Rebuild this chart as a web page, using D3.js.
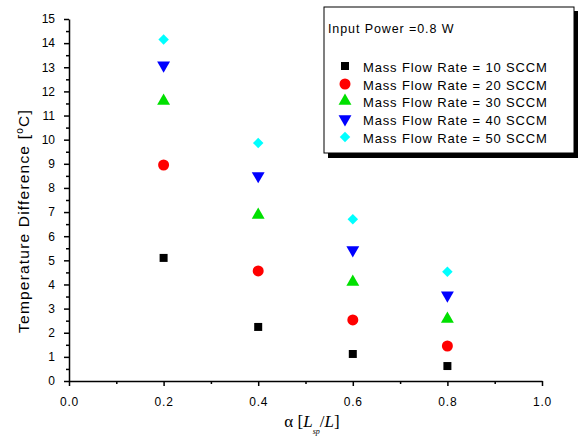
<!DOCTYPE html>
<html><head><meta charset="utf-8">
<script src="https://cdn.jsdelivr.net/npm/d3@7"></script>
<style>body{margin:0;background:#fff;}svg{display:block;font-family:Arial,"Liberation Sans",sans-serif;}</style>
</head><body>
<svg id="c" width="578" height="441"></svg>
<script>
const alphas = [0.2, 0.4, 0.6, 0.8];
const flow10 = [5.1, 2.24, 1.12, 0.62];
const flow20 = [8.95, 4.56, 2.53, 1.45];
const flow30 = [11.6, 6.88, 4.1, 2.57];
const flow40 = [13.08, 8.5, 5.43, 3.55];
const flow50 = [14.15, 9.86, 6.7, 4.53];
const seriesNames = ["Mass Flow Rate = 10 SCCM","Mass Flow Rate = 20 SCCM","Mass Flow Rate = 30 SCCM","Mass Flow Rate = 40 SCCM","Mass Flow Rate = 50 SCCM"];
const seriesValues = [flow10, flow20, flow30, flow40, flow50];
const colors = ["#000000","#ff0000","#00e000","#0000ff","#00ffff"];
const xTicks = [0.0,0.2,0.4,0.6,0.8,1.0];
const yTicks = d3.range(0,16);

const svg = d3.select("#c");
const x = d3.scaleLinear().domain([0,1]).range([69, 542]);
const y = d3.scaleLinear().domain([0,15]).range([381, 19]);

// axes
const xAxis = d3.axisBottom(x).tickValues(xTicks).tickFormat(d3.format(".1f")).tickSize(5).tickSizeOuter(0);
const gx = svg.append("g").attr("transform","translate(0,381)").call(xAxis);
gx.selectAll("text").attr("font-size",12).attr("fill","#000").attr("letter-spacing",0.8).attr("y",16);
const xMinor = d3.axisBottom(x).tickValues([0.1,0.3,0.5,0.7,0.9]).tickFormat("").tickSize(3).tickSizeOuter(0);
svg.append("g").attr("transform","translate(0,381)").call(xMinor).select(".domain").remove();

const yAxis = d3.axisLeft(y).tickValues(yTicks).tickFormat(d3.format("d")).tickSize(5).tickSizeOuter(0);
const gy = svg.append("g").attr("transform","translate(69,0)").call(yAxis);
gy.selectAll("text").attr("font-size",12).attr("fill","#000").attr("x",-14);
const yMinor = d3.axisLeft(y).tickValues(d3.range(0.5,15,1)).tickFormat("").tickSize(3).tickSizeOuter(0);
svg.append("g").attr("transform","translate(69,0)").call(yMinor).select(".domain").remove();
svg.selectAll(".domain, .tick line").attr("stroke","#000").attr("stroke-width",1.5);

// marker generators per series
function marker(i){
  if (i===0) return {d: d3.symbol().type(d3.symbolSquare).size(64)(), rot:0};
  if (i===1) return {d: d3.symbol().type(d3.symbolCircle).size(95)(), rot:0};
  if (i===2) return {d: d3.symbol().type(d3.symbolTriangle).size(72)(), rot:0};
  if (i===3) return {d: d3.symbol().type(d3.symbolTriangle).size(72)(), rot:180};
  return {d: d3.symbol().type(d3.symbolSquare).size(55)(), rot:45};
}

// points
seriesValues.forEach((vals,i)=>{
  const m = marker(i);
  svg.append("g").selectAll("path").data(vals).join("path")
    .attr("d", m.d)
    .attr("transform",(d,j)=>`translate(${x(alphas[j])},${y(d)}) rotate(${m.rot})`)
    .attr("fill", colors[i]);
});

// axis labels
svg.append("text").attr("transform","translate(29,221) rotate(-90)").attr("text-anchor","middle")
  .attr("font-size",15.5).attr("letter-spacing",1.2).attr("fill","#000")
  .html('Temperature Difference [<tspan dy="-6" font-size="10">o</tspan><tspan dy="6">C]</tspan>');
const xl = svg.append("text").attr("x",312).attr("y",427).attr("text-anchor","middle")
  .attr("font-family","'Liberation Serif','Times New Roman',serif").attr("font-size",17).attr("fill","#000");
xl.append("tspan").text("α [");
xl.append("tspan").attr("font-style","italic").text("L");
xl.append("tspan").attr("font-style","italic").attr("font-size",8).attr("dy",7).text("sp");
xl.append("tspan").attr("dy",-7).text("/");
xl.append("tspan").attr("font-style","italic").text("L");
xl.append("tspan").text("]");

// legend
const lg = svg.append("g");
lg.append("rect").attr("x",328).attr("y",11).attr("width",250).attr("height",147).attr("fill","#000");
lg.append("rect").attr("x",324).attr("y",7).attr("width",250).attr("height",146).attr("fill","#fff").attr("stroke","#000").attr("stroke-width",1);
lg.append("text").attr("x",328).attr("y",33).attr("font-size",12.5).attr("letter-spacing",0.9).attr("fill","#000").text("Input Power =0.8 W");
const rowsY = [66, 84, 101, 119, 137];
seriesNames.forEach((n,i)=>{
  const m = marker(i);
  lg.append("path").attr("d",m.d)
    .attr("transform",`translate(345,${rowsY[i]}) rotate(${m.rot})`)
    .attr("fill",colors[i]);
  lg.append("text").attr("x",363).attr("y",rowsY[i]+6).attr("font-size",13).attr("letter-spacing",0.85).attr("fill","#000").text(n);
});
</script>
</body></html>
